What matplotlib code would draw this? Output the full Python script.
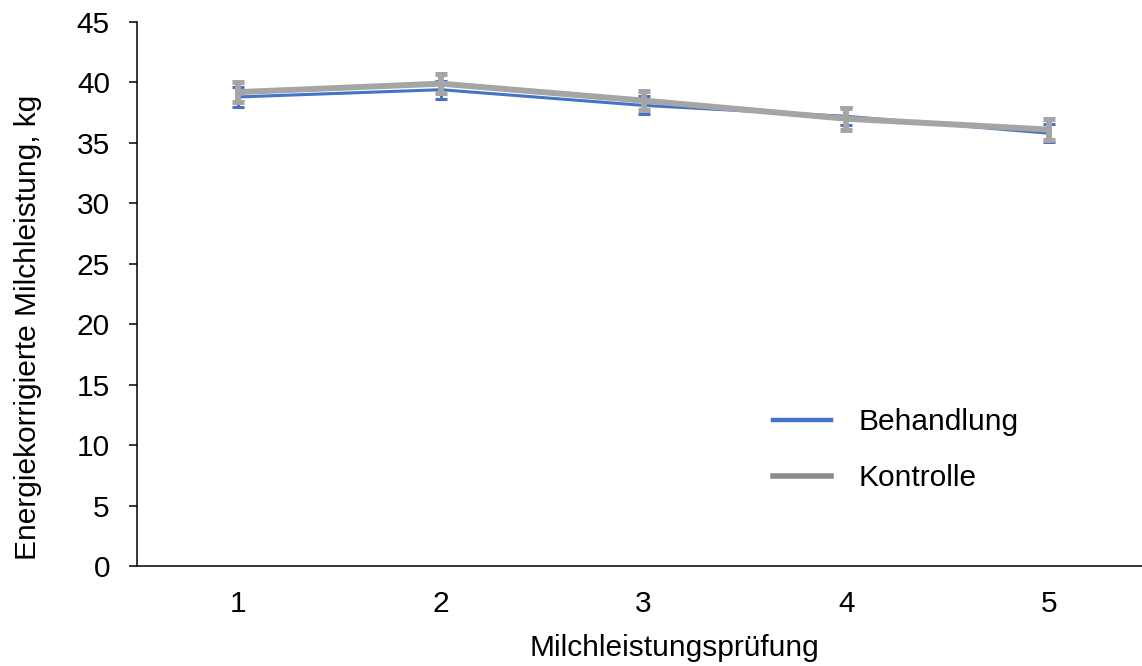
import numpy as np
import matplotlib.pyplot as plt
from matplotlib.lines import Line2D

plt.rcParams['font.family'] = ['Liberation Sans', 'DejaVu Sans']

# Data
pruefung = [1, 2, 3, 4, 5]
behandlung = [38.8, 39.4, 38.1, 37.2, 35.8]
behandlung_err = [0.8, 0.75, 0.75, 0.75, 0.75]
kontrolle = [39.2, 39.9, 38.5, 37.0, 36.1]
kontrolle_err = [0.8, 0.8, 0.8, 0.9, 0.85]

blue = '#4472C4'
grey = '#A5A5A5'
fs = 21.5

fig = plt.figure(figsize=(11.42, 6.66), dpi=100)
ax = fig.add_axes([137 / 1142, 1 - 566 / 666, 1 - 137 / 1142, 544 / 666])

ax.errorbar(pruefung, behandlung, yerr=behandlung_err, color=blue, lw=2.2,
            elinewidth=2.2, capsize=4.3, capthick=2.2, label='Behandlung', zorder=2)
ax.errorbar(pruefung, kontrolle, yerr=kontrolle_err, color=grey, lw=4.3,
            elinewidth=4.3, capsize=4.3, capthick=3.6, label='Kontrolle', zorder=3)

ax.set_xlim(0.5, 5.46)
ax.set_ylim(0, 45)
ax.set_yticks(np.arange(0, 46, 5))
ax.set_xticks(pruefung)

for s in ['top', 'right']:
    ax.spines[s].set_visible(False)
ax.spines['left'].set_linewidth(1.1)
ax.spines['bottom'].set_linewidth(1.1)
ax.tick_params(axis='y', length=5.5, width=1.1, labelsize=fs, pad=14)
ax.tick_params(axis='x', length=0, labelsize=fs, pad=17)

ax.set_xlabel('Milchleistungsprüfung', fontsize=fs)
ax.set_ylabel('Energiekorrigierte Milchleistung, kg', fontsize=fs)
# plot area in the source is wider than the cropped image, so labels sit off-centre
ax.xaxis.set_label_coords(0.535, -0.125)
ax.yaxis.set_label_coords(-0.0945, 0.439)

handles = [Line2D([], [], color=blue, lw=3.2), Line2D([], [], color='#8C8C8C', lw=4)]
ax.legend(handles, ['Behandlung', 'Kontrolle'], loc='center left',
          bbox_to_anchor=(0.606, 0.213), frameon=False, fontsize=fs,
          handlelength=1.94, handletextpad=0.94, labelspacing=0.94)

fig.savefig('out.png', dpi=100)
